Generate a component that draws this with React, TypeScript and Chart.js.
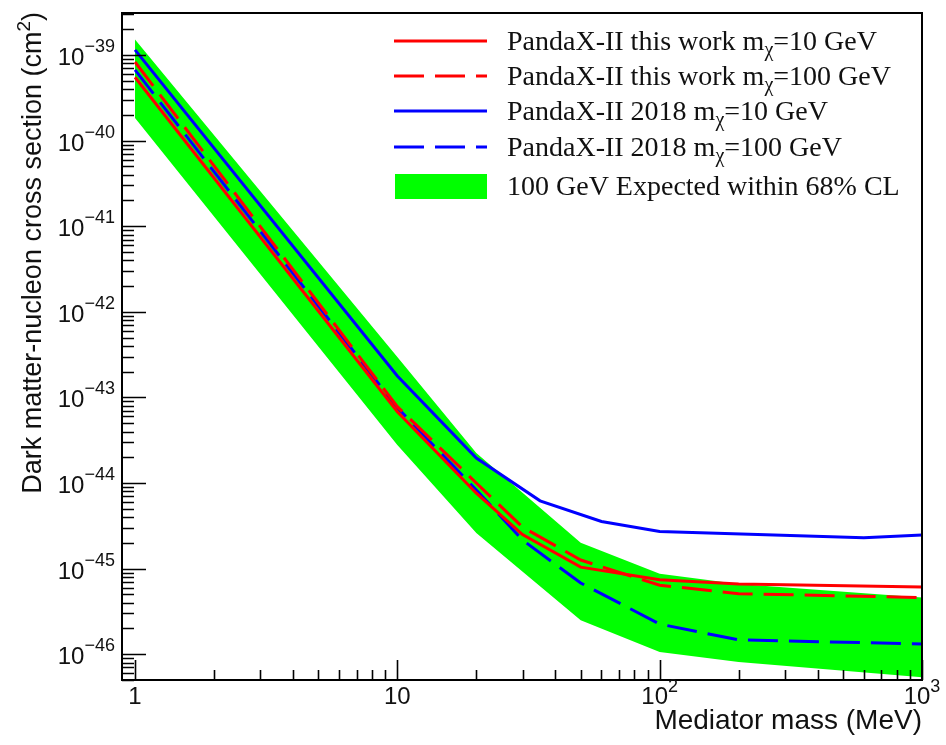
import React, { useEffect, useRef } from "react";
import { Chart, registerables } from "chart.js";

Chart.register(...registerables);

// ---------------- data ----------------
const massThisWork = [1, 10, 20, 30, 50, 100, 200, 1000];
const thisWorkM10 = [5.5e-40, 6.8e-44, 7.6e-45, 2.5e-45, 1.04e-45, 7.4e-46, 6.6e-46, 6.1e-46];
const thisWorkM100 = [8.3e-40, 7.8e-44, 1.0e-44, 3.06e-45, 1.26e-45, 6.4e-46, 5.1e-46, 4.6e-46];

const mass2018M10 = [1, 10, 20, 35, 60, 100, 600, 1000];
const pandax2018M10 = [1.15e-39, 1.78e-43, 1.96e-44, 6.2e-45, 3.55e-45, 2.71e-45, 2.3e-45, 2.47e-45];

const mass2018M100 = [1, 10, 20, 30, 50, 100, 200, 1000];
const pandax2018M100 = [6.7e-40, 7.6e-44, 8.3e-45, 2.16e-45, 6.8e-46, 2.25e-46, 1.47e-46, 1.32e-46];

const massBand = [1, 10, 20, 50, 100, 200, 1000];
const band68Upper = [1.52e-39, 2.96e-43, 2.24e-44, 2.0e-45, 8.7e-46, 6.6e-46, 4.6e-46];
const band68Lower = [1.84e-40, 2.78e-44, 2.6e-45, 2.5e-46, 1.06e-46, 8.1e-47, 5.4e-47];

const xTickValues = [1, 10, 100, 1000];
const xTickBase = ["1", "10", "10", "10"];
const xTickExp = ["", "", "2", "3"];

const yTickValues = [1e-46, 1e-45, 1e-44, 1e-43, 1e-42, 1e-41, 1e-40, 1e-39];
const yTickExp = ["\u221246", "\u221245", "\u221244", "\u221243", "\u221242", "\u221241", "\u221240", "\u221239"];

const xTitle = "Mediator mass (MeV)";
const yTitleMain = "Dark matter-nucleon cross section (cm";
const yTitleSup = "2";
const yTitleEnd = ")";

const legendPre = [
  "PandaX-II this work m",
  "PandaX-II this work m",
  "PandaX-II 2018 m",
  "PandaX-II 2018 m",
  "100 GeV Expected within 68% CL",
];
const legendSub = ["\u03c7", "\u03c7", "\u03c7", "\u03c7", ""];
const legendPost = ["=10 GeV", "=100 GeV", "=10 GeV", "=100 GeV", ""];

const X_MIN = 0.892;
const X_MAX = 1000;
const Y_MIN = 5.0e-47;
const Y_MAX = 3.1e-39;

// ---------------- styling ----------------
const RED = "#ff0000";
const BLUE = "#0000ff";
const GREEN = "#00ff00";
const DASH = [30, 11];
const SANS = "'Liberation Sans', Arial, Helvetica, sans-serif";
const SERIF = "'Liberation Serif', 'Times New Roman', serif";

const rootStyle = {
  id: "rootStyle",
  afterDatasetsDraw(chart: any) {
    const { ctx, chartArea: a, scales } = chart;
    const xs = scales.x;
    const ys = scales.y;
    ctx.save();

    // frame
    ctx.strokeStyle = "#000";
    ctx.lineWidth = 2;
    ctx.strokeRect(a.left, a.top, a.right - a.left, a.bottom - a.top);

    // ticks
    ctx.lineWidth = 1.6;
    ctx.beginPath();
    for (let e = -47; e <= -39; e++) {
      for (let m = 1; m <= 9; m++) {
        const v = m * Math.pow(10, e);
        if (v < Y_MIN || v > Y_MAX) continue;
        const py = Math.round(ys.getPixelForValue(v)) + 0.5;
        const len = m === 1 ? 24 : 12;
        ctx.moveTo(a.left, py);
        ctx.lineTo(a.left + len, py);
      }
    }
    for (let e = 0; e <= 3; e++) {
      for (let m = 1; m <= 9; m++) {
        const v = m * Math.pow(10, e);
        if (v < X_MIN || v > X_MAX) continue;
        const px = Math.round(xs.getPixelForValue(v)) + 0.5;
        const len = m === 1 ? 20 : 10;
        ctx.moveTo(px, a.bottom);
        ctx.lineTo(px, a.bottom - len);
      }
    }
    ctx.stroke();

    ctx.fillStyle = "#111";
    ctx.textAlign = "left";
    ctx.textBaseline = "alphabetic";
    const baseFont = `24px ${SANS}`;
    const expFont = `18px ${SANS}`;

    // y tick labels
    yTickValues.forEach((v, i) => {
      const py = ys.getPixelForValue(v);
      ctx.font = expFont;
      const we = ctx.measureText(yTickExp[i]).width;
      ctx.font = baseFont;
      const wb = ctx.measureText("10").width;
      const right = 115;
      ctx.fillText("10", right - we - wb, py + 10);
      ctx.font = expFont;
      ctx.fillText(yTickExp[i], right - we, py - 3);
    });

    // x tick labels
    xTickValues.forEach((v, i) => {
      const px = xs.getPixelForValue(v);
      ctx.font = baseFont;
      const wb = ctx.measureText(xTickBase[i]).width;
      ctx.font = expFont;
      const we = xTickExp[i] ? ctx.measureText(xTickExp[i]).width : 0;
      const left = px - (wb + we) / 2;
      ctx.font = baseFont;
      ctx.fillText(xTickBase[i], left, 704);
      if (xTickExp[i]) {
        ctx.font = expFont;
        ctx.fillText(xTickExp[i], left + wb, 692);
      }
    });

    // axis titles
    const titleFont = `28px ${SANS}`;
    const titleSupFont = `19px ${SANS}`;
    ctx.font = titleFont;
    ctx.textAlign = "right";
    ctx.fillText(xTitle, a.right, 729);

    ctx.save();
    ctx.translate(41, 12);
    ctx.rotate(-Math.PI / 2);
    ctx.textAlign = "left";
    ctx.font = `27px ${SANS}`;
    const wEnd = ctx.measureText(yTitleEnd).width;
    const wMain = ctx.measureText(yTitleMain).width;
    ctx.font = titleSupFont;
    const wSup = ctx.measureText(yTitleSup).width;
    const total = wMain + wSup + wEnd;
    ctx.font = `27px ${SANS}`;
    ctx.fillText(yTitleMain, -total, 0);
    ctx.font = titleSupFont;
    ctx.fillText(yTitleSup, -total + wMain, -11);
    ctx.font = `27px ${SANS}`;
    ctx.fillText(yTitleEnd, -total + wMain + wSup, 0);
    ctx.restore();

    // legend
    const rowY = [41, 76, 111, 147, 186];
    const legFont = `28px ${SERIF}`;
    const legSubFont = `20px ${SERIF}`;
    const ds = chart.data.datasets;
    legendPre.forEach((pre, i) => {
      const y = rowY[i];
      if (i < 4) {
        const d = ds[i];
        ctx.save();
        ctx.strokeStyle = d.borderColor;
        ctx.lineWidth = 3;
        ctx.setLineDash(d.borderDash || []);
        ctx.beginPath();
        ctx.moveTo(394, y);
        ctx.lineTo(487, y);
        ctx.stroke();
        ctx.restore();
      } else {
        ctx.fillStyle = GREEN;
        ctx.fillRect(395, y - 12, 92, 25);
        ctx.fillStyle = "#111";
      }
      ctx.textAlign = "left";
      let x = 507;
      const base = y + 9;
      ctx.font = legFont;
      ctx.fillText(pre, x, base);
      x += ctx.measureText(pre).width;
      if (legendSub[i]) {
        ctx.font = legSubFont;
        ctx.fillText(legendSub[i], x, base + 6);
        x += ctx.measureText(legendSub[i]).width;
      }
      if (legendPost[i]) {
        ctx.font = legFont;
        ctx.fillText(legendPost[i], x, base);
      }
    });

    ctx.restore();
  },
};

export default function App() {
  const ref = useRef<HTMLCanvasElement>(null);

  useEffect(() => {
    const pts = (xs: number[], ys: number[]) => xs.map((x, i) => ({ x, y: ys[i] }));
    const line = (label: string, xs: number[], ys: number[], color: string, dash: number[]) => ({
      label,
      data: pts(xs, ys),
      borderColor: color,
      backgroundColor: color,
      borderWidth: 3,
      borderDash: dash,
      pointRadius: 0,
      fill: false,
      tension: 0,
    });
    const chart = new Chart(ref.current as HTMLCanvasElement, {
      type: "line",
      data: {
        datasets: [
          line("PandaX-II this work mχ=10 GeV", massThisWork, thisWorkM10, RED, []),
          line("PandaX-II this work mχ=100 GeV", massThisWork, thisWorkM100, RED, DASH),
          line("PandaX-II 2018 mχ=10 GeV", mass2018M10, pandax2018M10, BLUE, []),
          line("PandaX-II 2018 mχ=100 GeV", mass2018M100, pandax2018M100, BLUE, DASH),
          {
            label: "100 GeV Expected within 68% CL",
            data: pts(massBand, band68Upper),
            borderWidth: 0,
            borderColor: "rgba(0,0,0,0)",
            backgroundColor: GREEN,
            pointRadius: 0,
            fill: "+1",
            tension: 0,
          },
          {
            label: "band lower",
            data: pts(massBand, band68Lower),
            borderWidth: 0,
            borderColor: "rgba(0,0,0,0)",
            backgroundColor: GREEN,
            pointRadius: 0,
            fill: false,
            tension: 0,
          },
        ],
      },
      options: {
        responsive: false,
        animation: false,
        layout: { padding: { left: 122, top: 13, right: 24, bottom: 65 } },
        plugins: { legend: { display: false }, tooltip: { enabled: false } },
        scales: {
          x: { type: "logarithmic", min: X_MIN, max: X_MAX, bounds: "data", display: false },
          y: { type: "logarithmic", min: Y_MIN, max: Y_MAX, bounds: "data", display: false },
        },
      },
      plugins: [rootStyle],
    } as any);
    return () => chart.destroy();
  }, []);

  return (
    <div style={{ position: "absolute", left: 0, top: 0, width: 946, height: 745, background: "#fff" }}>
      <canvas ref={ref} width={946} height={745} style={{ display: "block" }} />
    </div>
  );
}
